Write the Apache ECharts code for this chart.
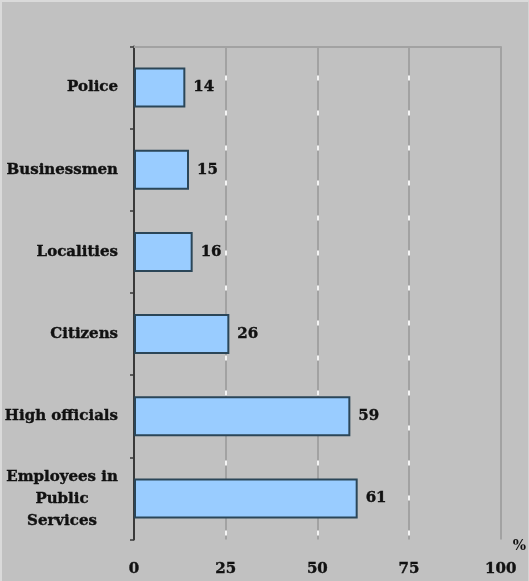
<!DOCTYPE html>
<html>
<head>
<meta charset="utf-8">
<script src="https://cdn.jsdelivr.net/npm/echarts@6/dist/echarts.min.js"></script>
<style>
html,body{margin:0;padding:0;background:#c1c1c1;}
#c{width:529px;height:581px;}
#frame{position:absolute;left:0;top:0;width:529px;height:581px;box-sizing:border-box;border-left:2px solid #dadada;border-top:2px solid #dadada;border-right:1px solid #d4d4d4;pointer-events:none;}
</style>
</head>
<body>
<div id="c"></div>
<div id="frame"></div>
<script>
const categories = ['Police', 'Businessmen', 'Localities', 'Citizens', 'High officials', 'Employees in Public Services'];
const values = [14, 15, 16, 26, 59, 61];
const tickValues = [0, 25, 50, 75, 100];

const serif = '"DejaVu Serif", "Liberation Serif", serif';
const chart = echarts.init(document.getElementById('c'));
chart.setOption({
  backgroundColor: 'transparent',
  animation: false,
  grid: {left: 134, right: 27, top: 46.5, bottom: 41.5, containLabel: false},
  xAxis: [{
    type: 'value', min: tickValues[0], max: tickValues[tickValues.length - 1], interval: 25,
    position: 'bottom',
    axisLine: {show: false}, axisTick: {show: false},
    axisLabel: {color: '#111', fontFamily: serif, fontWeight: 'bold', fontSize: 15, margin: 22, textBorderColor: '#111', textBorderWidth: 0.4},
    splitLine: {show: true, lineStyle: {color: '#a2a2a2', width: 2}},
    name: '%', nameLocation: 'end', nameGap: 12,
    nameTextStyle: {color: '#111', fontFamily: serif, fontWeight: 'bold', fontSize: 14, verticalAlign: 'top', padding: [0, 0, 0, 0]}
  }, {
    type: 'value', min: tickValues[0], max: tickValues[tickValues.length - 1], interval: 25,
    position: 'top',
    axisLine: {show: true, onZero: false, lineStyle: {color: '#a2a2a2', width: 2}},
    axisTick: {show: false}, axisLabel: {show: false},
    splitLine: {show: true, lineStyle: {color: ['rgba(0,0,0,0)', '#f4f4f4', '#f4f4f4', '#f4f4f4', 'rgba(0,0,0,0)'], width: 2, type: [5, 30], dashOffset: 6}}
  }],
  yAxis: {
    type: 'category', data: categories, inverse: true,
    axisLine: {show: true, lineStyle: {color: '#3a3a3a', width: 2}},
    axisTick: {show: true, length: 4, lineStyle: {color: '#3a3a3a', width: 1.5}},
    axisLabel: {
      color: '#111', fontFamily: serif, fontWeight: 'bold', fontSize: 15, margin: 16,
      textBorderColor: '#111', textBorderWidth: 0.4,
      formatter: function (v) {
        if (v === 'Employees in Public Services') {
          return '{c|Employees in}\n{c|Public}\n{c|Services}';
        }
        return v;
      },
      rich: {c: {width: 112, align: 'center', fontFamily: serif, fontWeight: 'bold', fontSize: 15, color: '#111', lineHeight: 22, textBorderColor: '#111', textBorderWidth: 0.4, padding: [2, 0, 0, 0]}}
    }
  },
  series: [{
    type: 'bar', data: values, barWidth: 40, xAxisIndex: 0,
    itemStyle: {color: '#99ccff', borderColor: '#2b4658', borderWidth: 2},
    label: {show: true, position: 'right', distance: 8, color: '#111', fontFamily: serif, fontWeight: 'bold', fontSize: 15, textBorderColor: '#111', textBorderWidth: 0.4}
  }]
});
</script>
</body>
</html>
